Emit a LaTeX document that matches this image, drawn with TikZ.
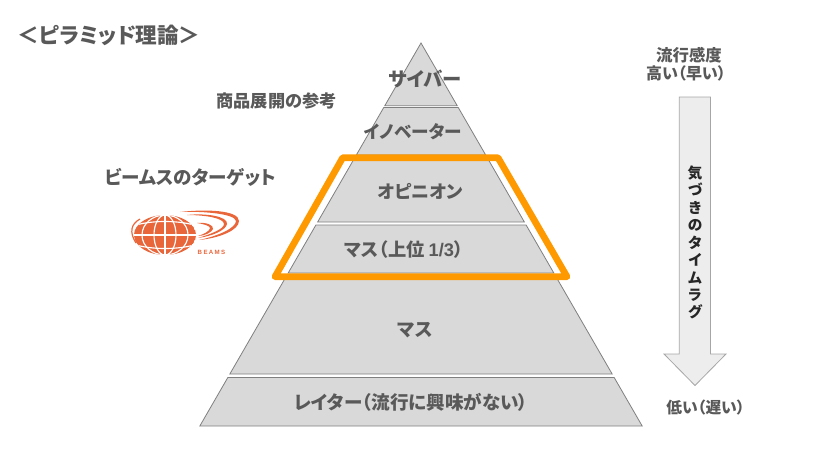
\documentclass[tikz,border=0pt]{standalone}
\usepackage{fontspec}
\setmainfont{Noto Sans CJK JP}[RawFeature={+palt}]
\newfontfamily\latinbold{Liberation Sans Bold}
\newfontfamily\beamsfont[LetterSpace=22]{Liberation Sans Bold}
\definecolor{txt}{HTML}{595959}
\definecolor{layerfill}{HTML}{D9D9D9}
\definecolor{layerline}{HTML}{7F7F7F}
\definecolor{arrowfill}{HTML}{EDEDED}
\definecolor{arrowline}{HTML}{A6A6A6}
\definecolor{frameorange}{HTML}{FF9900}
\definecolor{beams}{HTML}{E9663B}
\tikzset{
  lbl/.style={inner sep=0pt,text=txt,font=\bfseries\fontsize{#1}{#1}\selectfont},
  lbl/.default=13.5,
  layerbox/.style={fill=layerfill,draw=layerline,line width=0.6pt,line join=miter},
  grid line/.style={draw=white,line width=0.85pt}
}
\begin{document}
\begin{tikzpicture}[x=0.75pt,y=-0.75pt]
\useasboundingbox (0,0) rectangle (828,461);
% pyramid layers
\foreach \ytop/\ybot in {43/105.7,107.5/155,159/222,225/273,277/374,377.5/426}{
  \pgfmathsetmacro{\ht}{(\ytop-43)*0.5775}
  \pgfmathsetmacro{\hb}{(\ybot-43)*0.5775}
  \draw[layerbox] ({421-\ht},\ytop) -- ({421+\ht},\ytop) -- ({421+\hb},\ybot) -- ({421-\hb},\ybot) -- cycle;
}
% orange frame
\draw[frameorange,line width=5pt,line join=round] (342.7,157.7) -- (498,157.7) -- (567,276.7) -- (275,276.7) -- cycle;
% layer labels
\node[lbl=14.5] (saiba) at (425,79) {サイバー};
\node[lbl=13.2] (inno) at (413,132) {イノベーター};
\node[lbl] (opinion) at (420.5,191) {オピニオン};
\node[lbl=13.7] (massup) at (404,249.5) {マス（上位 {\latinbold 1/3}）};
\node[lbl=14] (mass) at (415,330) {マス};
\node[lbl=13.9] (laggard) at (411,402) {レイター（流行に興味がない）};
% side labels
\node[lbl=16.2] (title) at (109,35) {＜ピラミッド理論＞};
\node[lbl=12.9] (ref) at (276.5,101) {商品展開の参考};
\node[lbl=13.9] (target) at (190.5,177) {ビームスのターゲット};
\node[lbl=12.3] (high1) at (689,55) {流行感度};
\node[lbl=12] (high2) at (686,73) {高い（早い）};
\node[lbl=11.8] (low) at (705.5,408) {低い（遅い）};
% lag arrow
\draw[fill=arrowfill,draw=arrowline,line width=0.6pt] (679.3,97) -- (710.5,97) -- (710.5,354) -- (726,354) -- (695,385.5) -- (664,354) -- (679.3,354) -- cycle;
\node[inner sep=0pt,align=center,text=black!85,font=\bfseries\fontsize{11}{13.1}\selectfont] (lag) at (695,242.5)
  {気\\づ\\き\\の\\タ\\イ\\ム\\ラ\\グ};
% BEAMS logo: globe
\begin{scope}
  \clip (165,235) ellipse (31 and 20);
  \fill[beams] (165,235) ellipse (31 and 20);
  \path[grid line] (165,215) -- (165,255);
  \path[grid line] (165,235) ellipse (11 and 20);
  \path[grid line] (165,235) ellipse (23 and 20);
  \path[grid line] (133,235) -- (197,235);
  \path[grid line] (133,226) .. controls (150,220) and (180,220) .. (197,226);
  \path[grid line] (133,244) .. controls (150,250) and (180,250) .. (197,244);
\end{scope}
% BEAMS logo: swooshes
\fill[beams] (180,212) .. controls (205,209) and (239,210) .. (239,221)
  .. controls (239,230) and (220,238) .. (199,240)
  .. controls (218,236) and (236,228) .. (236,221)
  .. controls (235,214) and (205,211) .. (180,212) -- cycle;
\fill[beams] (187,215) .. controls (205,213) and (228,216) .. (227,224)
  .. controls (226,230) and (213,236) .. (198,238)
  .. controls (211,234) and (224,229) .. (224,224)
  .. controls (224,218) and (205,215) .. (187,215) -- cycle;
\fill[beams] (197,223) .. controls (206,222) and (214,225) .. (213,229)
  .. controls (212,232) and (205,236) .. (198,236)
  .. controls (204,234) and (210,231) .. (210,228)
  .. controls (210,226) and (204,224) .. (197,223) -- cycle;
% BEAMS logo: left crescent
\draw[beams,line width=0.9pt] (140,219) .. controls (131,224) and (129,232) .. (136,243);
\node[inner sep=0pt,text=beams,font=\beamsfont\fontsize{4.6}{5}\selectfont] (beamstxt) at (211.5,252.5) {BEAMS};
\end{tikzpicture}
\end{document}
